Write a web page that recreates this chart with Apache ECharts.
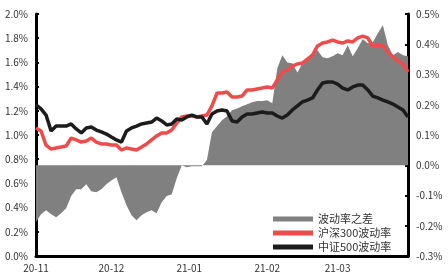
<!DOCTYPE html>
<html>
<head>
<meta charset="utf-8">
<script src="https://cdn.jsdelivr.net/npm/echarts@6/dist/echarts.min.js"></script>
<style>html,body{margin:0;padding:0;background:#fff}#c{width:448px;height:275px}</style>
</head>
<body>
<div id="c"></div>
<script>
var dates = [
'2020-11-01','2020-11-03','2020-11-05','2020-11-07','2020-11-09','2020-11-11','2020-11-13','2020-11-15','2020-11-17','2020-11-19','2020-11-21','2020-11-23','2020-11-25','2020-11-27','2020-11-29',
'2020-12-01','2020-12-03','2020-12-05','2020-12-07','2020-12-09','2020-12-11','2020-12-13','2020-12-15','2020-12-17','2020-12-19','2020-12-21','2020-12-23','2020-12-25','2020-12-27','2020-12-29','2020-12-31',
'2021-01-02','2021-01-04','2021-01-06','2021-01-08','2021-01-10','2021-01-12','2021-01-14','2021-01-16','2021-01-18','2021-01-20','2021-01-22','2021-01-24','2021-01-26','2021-01-28','2021-01-30',
'2021-02-01','2021-02-03','2021-02-05','2021-02-07','2021-02-09','2021-02-11','2021-02-13','2021-02-15','2021-02-17','2021-02-19','2021-02-21','2021-02-23','2021-02-25','2021-02-27',
'2021-03-01','2021-03-03','2021-03-05','2021-03-07','2021-03-09','2021-03-11','2021-03-13','2021-03-15','2021-03-17','2021-03-19','2021-03-21','2021-03-23','2021-03-25','2021-03-27','2021-03-29'
];
var seriesNames = ['波动率之差', '沪深300波动率', '中证500波动率'];
var diffVals = [-0.188,-0.162,-0.149,-0.162,-0.172,-0.159,-0.142,-0.102,-0.079,-0.079,
-0.063,-0.086,-0.089,-0.079,-0.063,-0.050,-0.040,-0.089,-0.132,-0.165,
-0.182,-0.165,-0.155,-0.149,-0.159,-0.122,-0.102,-0.096,-0.043,0.000,
-0.007,-0.003,-0.003,-0.003,0.017,0.109,0.129,0.149,0.162,0.182,
0.188,0.195,0.202,0.208,0.212,0.212,0.215,0.205,0.321,0.364,
0.340,0.337,0.307,0.337,0.354,0.370,0.380,0.357,0.354,0.360,
0.370,0.364,0.397,0.360,0.387,0.417,0.403,0.407,0.436,0.463,
0.397,0.364,0.374,0.364,0.360];
var hs300Vals = [1.058,1.033,0.917,0.884,0.893,0.901,0.909,0.975,0.959,0.942,
0.950,0.975,0.942,0.926,0.926,0.917,0.917,0.876,0.893,0.884,
0.876,0.901,0.926,0.959,0.992,1.017,1.017,1.041,1.099,1.149,
1.157,1.157,1.149,1.157,1.165,1.240,1.347,1.347,1.355,1.314,
1.314,1.322,1.372,1.372,1.380,1.388,1.397,1.388,1.455,1.521,
1.537,1.570,1.587,1.595,1.628,1.661,1.736,1.760,1.769,1.785,
1.769,1.760,1.777,1.769,1.802,1.818,1.802,1.736,1.744,1.736,
1.686,1.645,1.612,1.587,1.521];
var zz500Vals = [1.248,1.215,1.165,1.033,1.074,1.074,1.074,1.091,1.050,1.017,
1.058,1.066,1.041,1.025,1.008,0.983,0.959,0.942,1.033,1.058,
1.074,1.091,1.099,1.107,1.140,1.116,1.083,1.091,1.132,1.124,
1.149,1.165,1.149,1.149,1.091,1.174,1.198,1.207,1.198,1.116,
1.107,1.149,1.174,1.174,1.182,1.190,1.182,1.182,1.157,1.140,
1.165,1.207,1.240,1.273,1.289,1.306,1.372,1.430,1.438,1.438,
1.421,1.388,1.372,1.397,1.413,1.413,1.372,1.322,1.306,1.289,
1.273,1.256,1.231,1.207,1.149];

function pairs(vals){ return dates.map(function(d,i){ return [d, vals[i]]; }); }
function pct(v){ if (Math.abs(v) < 1e-9) v = 0; return v.toFixed(1) + '%'; }
var DAY = 86400000;
var font = "'Noto Sans CJK SC', 'DejaVu Sans', sans-serif";

var chart = echarts.init(document.getElementById('c'), null, {renderer:'canvas'});
chart.setOption({
  animation: false,
  backgroundColor: '#fff',
  grid: {left: 36, right: 40, top: 14, bottom: 19},
  legend: {
    orient: 'vertical', left: 268, top: 207, itemGap: 0,
    itemWidth: 40, itemHeight: 5, icon: 'rect',
    textStyle: {fontSize: 11, color: '#333', lineHeight: 14, fontFamily: font},
    data: seriesNames
  },
  xAxis: {
    type: 'time',
    min: '2020-11-01', max: '2021-03-29',
    minInterval: 28 * DAY, maxInterval: 31 * DAY,
    axisLine: {lineStyle: {color: '#000', width: 3}},
    axisTick: {show: false},
    splitLine: {show: false},
    axisLabel: {
      fontSize: 10, color: '#333', margin: 7, fontFamily: font,
      formatter: function(v){ var d = new Date(v); var y = String(d.getFullYear()).slice(2); var m = d.getMonth()+1; return y + '-' + (m<10?'0':'') + m; }
    }
  },
  yAxis: [{
    type: 'value', min: 0, max: 2.0, interval: 0.2,
    axisLine: {show: true, lineStyle: {color: '#000', width: 3}},
    axisTick: {show: true, inside: true, length: 3, lineStyle: {color: '#000', width: 2}},
    splitLine: {show: false},
    axisLabel: {fontSize: 10, color: '#333', margin: 8, fontFamily: font, formatter: pct}
  }, {
    type: 'value', min: -0.3, max: 0.5, interval: 0.1, position: 'right',
    axisLine: {show: true, lineStyle: {color: '#000', width: 3}},
    axisTick: {show: true, inside: true, length: 3, lineStyle: {color: '#000', width: 2}},
    splitLine: {show: false},
    axisLabel: {fontSize: 10, color: '#333', margin: 8, fontFamily: font, formatter: pct}
  }],
  series: [{
    name: seriesNames[0], type: 'line', yAxisIndex: 1, data: pairs(diffVals),
    symbol: 'none', color: '#808080',
    lineStyle: {width: 0}, areaStyle: {color: '#808080', opacity: 1}
  }, {
    name: seriesNames[1], type: 'line', yAxisIndex: 0, data: pairs(hs300Vals),
    symbol: 'none', color: '#ee4b4b', lineStyle: {width: 3.5, color: '#ee4b4b'}
  }, {
    name: seriesNames[2], type: 'line', yAxisIndex: 0, data: pairs(zz500Vals),
    symbol: 'none', color: '#1c1c1c', lineStyle: {width: 3.5, color: '#1c1c1c'}
  }]
});
</script>
</body>
</html>
